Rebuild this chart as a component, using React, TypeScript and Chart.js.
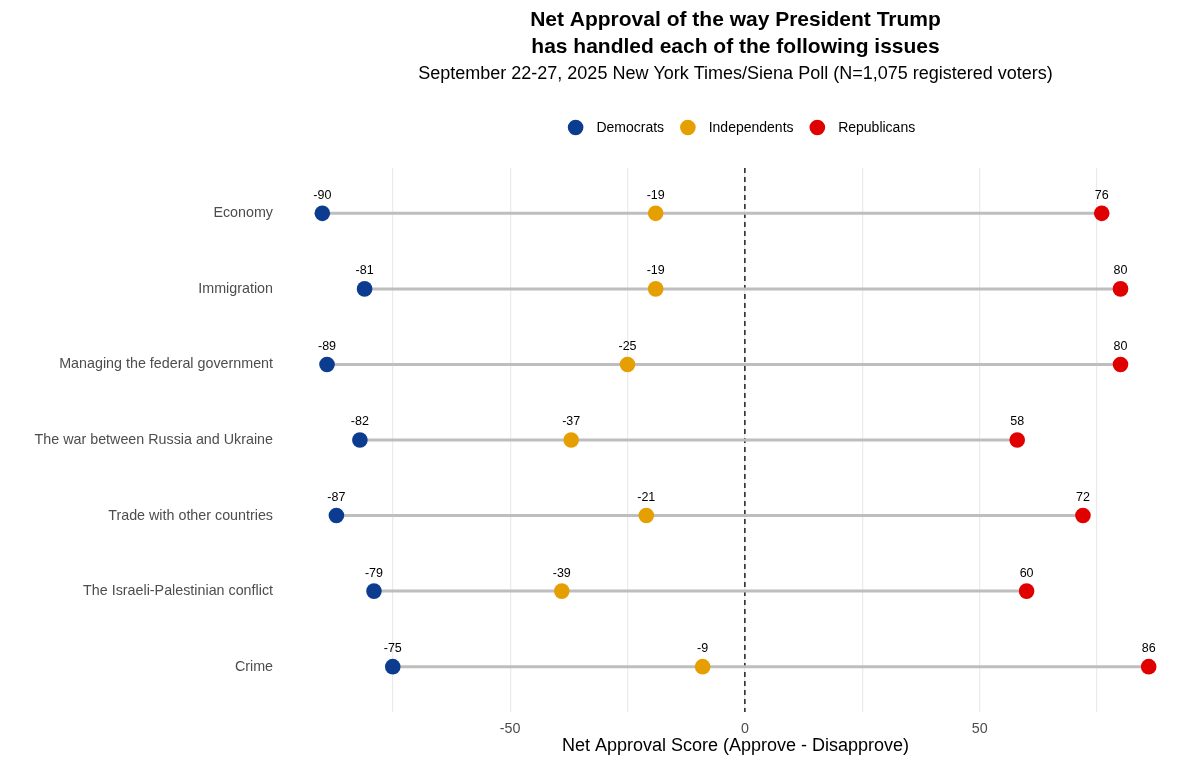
import React, { useEffect, useRef } from "react";
import { Chart, registerables } from "chart.js";

Chart.register(...registerables);

const categories = [
  "Economy",
  "Immigration",
  "Managing the federal government",
  "The war between Russia and Ukraine",
  "Trade with other countries",
  "The Israeli-Palestinian conflict",
  "Crime",
];
const democrats = [-90, -81, -89, -82, -87, -79, -75];
const independents = [-19, -19, -25, -37, -21, -39, -9];
const republicans = [76, 80, 80, 58, 72, 60, 86];
const seriesNames = ["Democrats", "Independents", "Republicans"];
const seriesColors = ["#0B3C8F", "#E69F00", "#E00000"];
const xTickValues = [-50, 0, 50];

const FONT = "'Liberation Sans', Arial, Helvetica, sans-serif";

export default function App() {
  const ref = useRef<HTMLCanvasElement | null>(null);

  useEffect(() => {
    document.body.style.margin = "0";
    const canvas = ref.current;
    if (!canvas) return;

    const allSeries = [democrats, independents, republicans];

    const segmentDatasets = categories.map((_, i) => {
      const vals = allSeries.map((s) => s[i]);
      return {
        type: "line" as const,
        label: "seg" + i,
        data: [
          { x: Math.min(...vals), y: i },
          { x: Math.max(...vals), y: i },
        ],
        borderColor: "#BEBEBE",
        borderWidth: 3,
        pointRadius: 0,
        showLine: true,
        order: 2,
      };
    });

    const pointDatasets = allSeries.map((s, k) => ({
      type: "scatter" as const,
      label: seriesNames[k],
      data: s.map((v, i) => ({ x: v, y: i })),
      backgroundColor: seriesColors[k],
      borderWidth: 0,
      pointRadius: 7.8,
      pointHoverRadius: 7.8,
      order: 1,
      isPoint: true,
    }));

    const overlay = {
      id: "overlay",
      beforeDatasetsDraw(chart: any) {
        const { ctx, chartArea } = chart;
        const x0 = chart.scales.x.getPixelForValue(0);
        ctx.save();
        ctx.strokeStyle = "#000";
        ctx.lineWidth = 1.3;
        ctx.setLineDash([5, 4]);
        ctx.beginPath();
        ctx.moveTo(x0, chartArea.top);
        ctx.lineTo(x0, chartArea.bottom);
        ctx.stroke();
        ctx.restore();
      },
      afterDatasetsDraw(chart: any) {
        const { ctx } = chart;
        ctx.save();
        ctx.fillStyle = "#000";
        ctx.font = `12.5px ${FONT}`;
        ctx.textAlign = "center";
        ctx.textBaseline = "middle";
        chart.data.datasets.forEach((ds: any, di: number) => {
          if (!ds.isPoint) return;
          const meta = chart.getDatasetMeta(di);
          meta.data.forEach((pt: any, i: number) => {
            ctx.fillText(String(ds.data[i].x), pt.x, pt.y - 18);
          });
        });
        ctx.restore();
      },
      afterDraw(chart: any) {
        const { ctx, chartArea } = chart;
        const cx = (chartArea.left + chartArea.right) / 2;
        ctx.save();
        ctx.fillStyle = "#000";
        ctx.textAlign = "center";
        ctx.textBaseline = "middle";
        ctx.font = `bold 21px ${FONT}`;
        ctx.fillText("Net Approval of the way President Trump", cx, 20);
        ctx.fillText("has handled each of the following issues", cx, 47);
        ctx.font = `18px ${FONT}`;
        ctx.fillText(
          "September 22-27, 2025 New York Times/Siena Poll (N=1,075 registered voters)",
          cx,
          74
        );
        // legend
        ctx.font = `14px ${FONT}`;
        const r = 7.8;
        const gapText = 13;
        const gapItem = 16;
        const widths = seriesNames.map((n) => ctx.measureText(n).width);
        const total =
          widths.reduce((a, w) => a + 2 * r + gapText + w, 0) +
          gapItem * (seriesNames.length - 1);
        let x = 741.5 - total / 2;
        const ly = 127.5;
        ctx.textAlign = "left";
        seriesNames.forEach((n, k) => {
          ctx.fillStyle = seriesColors[k];
          ctx.beginPath();
          ctx.arc(x + r, ly, r, 0, Math.PI * 2);
          ctx.fill();
          ctx.fillStyle = "#000";
          ctx.fillText(n, x + 2 * r + gapText, ly + 0.5);
          x += 2 * r + gapText + widths[k] + gapItem;
        });
        ctx.restore();
      },
    };

    const chart = new Chart(canvas, {
      type: "scatter",
      data: { datasets: [...segmentDatasets, ...pointDatasets] as any },
      options: {
        animation: false,
        responsive: true,
        maintainAspectRatio: false,
        layout: { padding: { top: 168, right: 10, left: 0, bottom: 0 } },
        plugins: {
          legend: { display: false },
          title: { display: false },
          tooltip: { enabled: false },
        },
        events: [],
        scales: {
          x: {
            type: "linear",
            min: -98.8,
            max: 94.8,
            afterFit(scale: any) {
              scale.height = 52;
            },
            ticks: {
              stepSize: 25,
              includeBounds: false,
              autoSkip: false,
              maxRotation: 0,
              padding: 8,
              color: "#4D4D4D",
              font: { family: FONT, size: 14.3 },
              callback: (v: any) => (xTickValues.includes(Number(v)) ? String(v) : ""),
            },
            grid: { color: "#EBEBEB", lineWidth: 1.2, drawTicks: false },
            border: { display: false },
            title: {
              display: true,
              text: "Net Approval Score (Approve - Disapprove)",
              color: "#000",
              font: { family: FONT, size: 18 },
              padding: { top: 4, bottom: 7 },
            },
          },
          y: {
            type: "linear",
            reverse: true,
            min: -0.6,
            max: categories.length - 0.4,
            afterFit(scale: any) {
              scale.width = 281;
            },
            ticks: {
              stepSize: 1,
              includeBounds: false,
              autoSkip: false,
              padding: 8,
              color: "#4D4D4D",
              font: { family: FONT, size: 14.3 },
              callback: (v: any) => categories[Number(v)] ?? "",
            },
            grid: { display: false, drawTicks: false },
            border: { display: false },
          },
        },
      },
      plugins: [overlay],
    });

    return () => chart.destroy();
  }, []);

  return (
    <div style={{ position: "relative", width: 1200, height: 764 }}>
      <canvas ref={ref} />
    </div>
  );
}
